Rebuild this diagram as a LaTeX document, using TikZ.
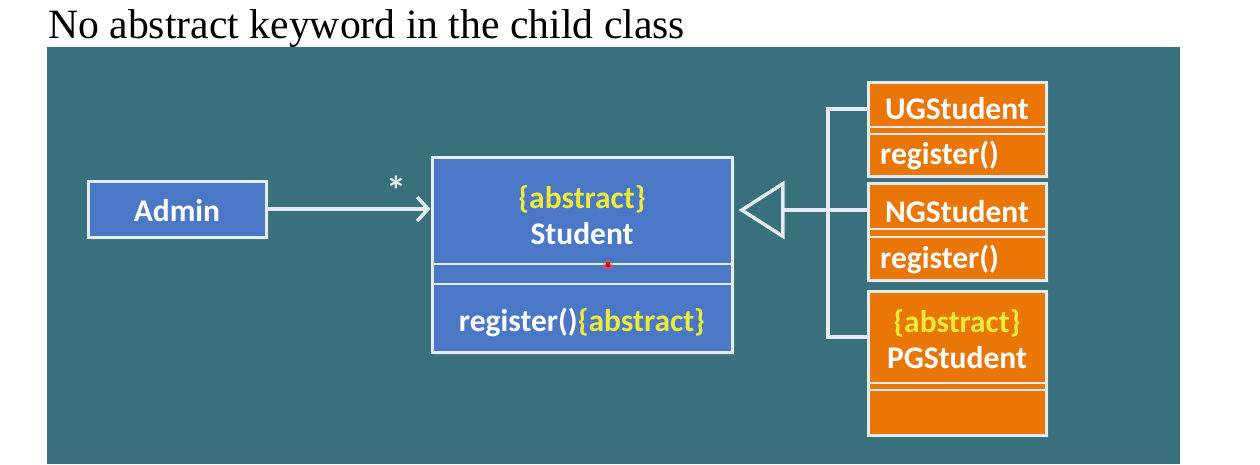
\documentclass[tikz,border=0pt]{standalone}
\usepackage{fontspec}
\setmainfont{Liberation Serif}
\newfontfamily\slidefont{Carlito}
\usepackage{tikz}
\usetikzlibrary{arrows.meta,positioning,shadows}

\definecolor{board}{RGB}{57,112,125}
\definecolor{umlblue}{RGB}{74,120,198}
\definecolor{umlorange}{RGB}{234,118,8}
\definecolor{rim}{RGB}{228,236,240}
\definecolor{tagyellow}{RGB}{236,236,56}

\tikzset{
  classbox/.style={draw=rim, line width=3pt, inner sep=0pt,
    drop shadow={shadow xshift=3pt, shadow yshift=-3pt, opacity=0.35}},
  blueclass/.style={classbox, fill=umlblue},
  orangeclass/.style={classbox, fill=umlorange},
  classtext/.style={text=white, inner sep=0pt, align=center,
    font=\slidefont\bfseries\fontsize{31.5}{36}\selectfont},
  divider/.style={rim, line width=2.5pt},
  link/.style={draw=rim, line width=3.5pt}
}

\begin{document}
\begin{tikzpicture}[x=1pt,y=-1pt]
  \useasboundingbox (0,0) rectangle (1260,464);
  % Title
  \node[anchor=base west, inner sep=0pt, font=\fontsize{41.7}{44}\selectfont] (title) at (48,38)
    {No abstract keyword in the child class};
  % Board
  \fill[board] (47,47) rectangle (1180,464);
  % Admin
  \node[blueclass, minimum width=178pt, minimum height=56pt] (admin) at (177,209) {};
  \node[classtext] (adminname) at (177,211) {Admin};
  % Student (abstract)
  \node[blueclass, minimum width=300pt, minimum height=195pt] (student) at (582,255) {};
  \node[classtext] (studentname) at (582,215) {\textcolor{tagyellow}{\{abstract\}}\\Student};
  \draw[divider] (433,264) -- (731,264);
  \draw[divider] (433,284) -- (731,284);
  \node[classtext] (studentop) at (582,322) {register()\textcolor{tagyellow}{\{abstract\}}};
  \fill[red!70, opacity=0.45] (608,265) circle (5.5);
  \fill[red!85!black] (608,265) circle (2.5);
  % Child classes
  \node[orangeclass, minimum width=178pt, minimum height=94pt] (ug) at (957,129) {};
  \node[classtext] (ugname) at (957,109) {UGStudent};
  \draw[divider] (869,127) -- (1045,127);
  \draw[divider] (869,134) -- (1045,134);
  \node[classtext, anchor=west] (ugop) at (880,155) {register()};

  \node[orangeclass, minimum width=178pt, minimum height=97pt] (ng) at (957,231.5) {};
  \node[classtext] (ngname) at (957,212) {NGStudent};
  \draw[divider] (869,229) -- (1045,229);
  \draw[divider] (869,237) -- (1045,237);
  \node[classtext, anchor=west] (ngop) at (880,259) {register()};

  \node[orangeclass, minimum width=178pt, minimum height=144pt] (pg) at (957,363) {};
  \node[classtext] (pgname) at (957,339) {\textcolor{tagyellow}{\{abstract\}}\\PGStudent};
  \draw[divider] (869,383) -- (1045,383);
  \draw[divider] (869,390) -- (1045,390);
  % Association
  \draw[link, -{Straight Barb[length=11pt, width=24pt, line width=3.5pt]}]
    (admin.east) -- (admin.east -| student.west)
    node[pos=0.79, yshift=19pt, text=rim, font=\slidefont\bfseries\fontsize{40}{40}\selectfont] (many) {*};
  % Inheritance
  \coordinate (fork) at (828,210);
  \draw[link] (ugname -| ug.west) -| (fork |- 0,337) -- (pg.west |- 0,337);
  \draw[link] (fork) -- (fork -| ng.west);
  \draw[link, -{Triangle[open, length=46pt, width=58pt]}, shorten >=5pt]
    (fork) -- (fork -| student.east);
\end{tikzpicture}
\end{document}
